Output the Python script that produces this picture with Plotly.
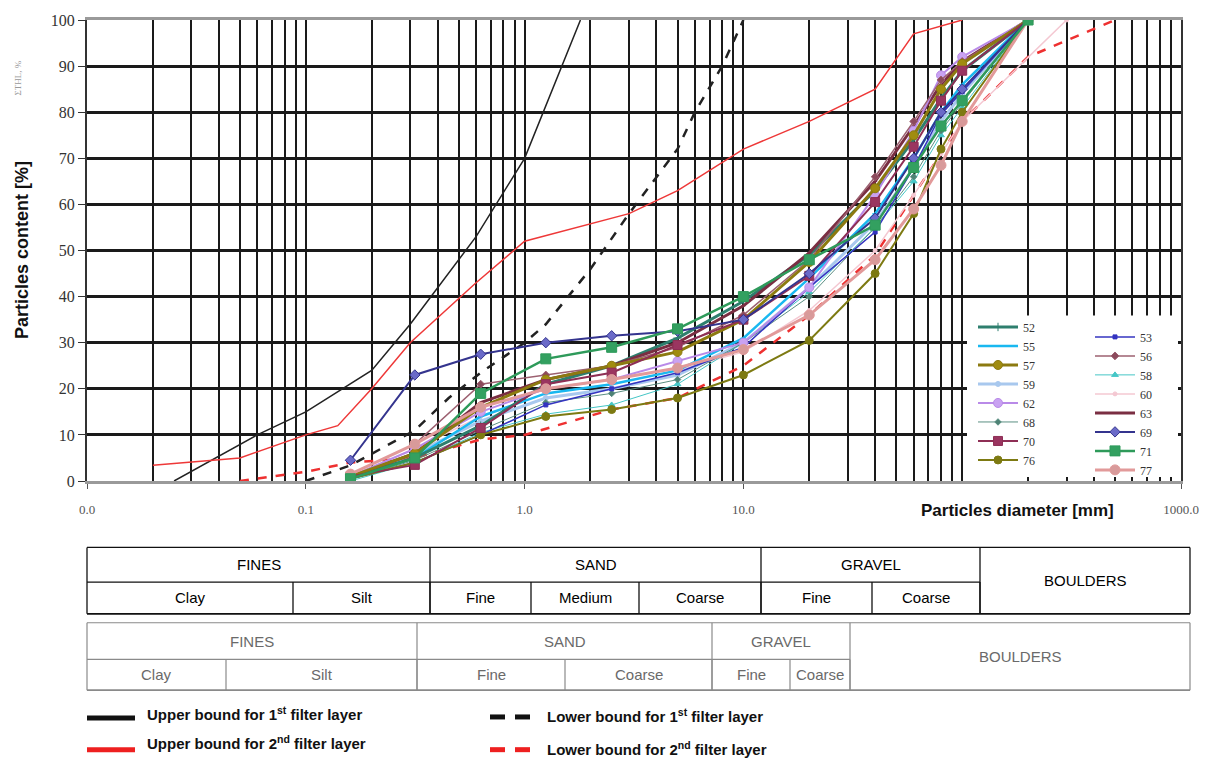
import plotly.graph_objects as go

# ---------------- data ----------------
SIEVES = [0.16, 0.315, 0.63, 1.25, 2.5, 5, 10, 20, 40, 60, 80, 100, 200, 300]

S52 = [1, 5, 12, 21, 25, 31, 39, 49, 63, 74, 83, 89, 100, None]
S53 = [0.5, 4, 10, 16.5, 20, 23.5, 29, 42, 54, 68, 79.5, 84.5, 100, None]
S55 = [0.5, 5, 14, 19, 21, 24, 31, 44, 58, 70, 80, 86, 100, None]
S56 = [1.5, 8, 21, 23, 25, 29, 36, 48, 66, 78, 87, 91, 100, None]
S57 = [1, 6, 16, 22, 25, 28, 35, 47.5, 63.5, 75, 85, 90.5, 100, None]
S58 = [0, 4, 10.5, 14.5, 16.5, 21, 30, 41, 55, 65, 75, 81, 100, None]
S59 = [0.5, 6, 13, 18, 20, 23, 30, 42, 56, 68, 78, 84, 100, None]
S60 = [1, 7, 14, 19, 21, 24, 28, 37, 50, 62, 71, 78, None, 100]
S62 = [1, 7, 15, 20, 22, 26, 30, 42, 62, 76, 88, 92, 100, None]
S63 = [1, 6, 17, 22, 25, 30, 38, 49.5, 65, 77, 86, 91, 100, None]
S68 = [0.5, 4.5, 11, 17, 19, 22, 30, 40, 55, 66, 76, 82, 100, None]
S69 = [4.5, 23, 27.5, 30, 31.5, 32.5, 35, 45, 57, 70, 80, 85, 100, None]
S70 = [1, 3.5, 11.5, 21, 23.5, 29.5, 35, 44.5, 60.5, 72.5, 82.5, 89, 100, None]
S71 = [0.5, 5, 19, 26.5, 29, 33, 40, 48, 55.5, 68, 77, 82.5, 100, None]
S76 = [0.5, 4, 10, 14, 15.5, 18, 23, 30.5, 45, 58, 72, 80, 100, None]
S77 = [1.5, 8, 16, 20, 22, 24.5, 28.5, 36, 48, 59, 68.5, 78, 100, None]

UB1_D = [0.025, 0.06, 0.1, 0.2, 0.3, 0.6, 1.0, 1.8]
UB1_P = [0, 10, 15, 24, 34, 53, 70, 100]
UB2_D = [0.02, 0.05, 0.1, 0.14, 0.2, 0.3, 0.6, 1.0, 3.0, 5.0, 10, 20, 40, 60, 100]
UB2_P = [3.4, 5, 10, 12, 20, 30, 43, 52, 58, 63, 72, 78, 85, 97, 100]
LB1_D = [0.1, 0.16, 0.315, 0.45, 0.63, 1.0, 1.25, 2.0, 3.0, 5.0, 6.0, 8.0, 10]
LB1_P = [0, 3.4, 11, 18, 23.5, 30, 34, 46, 58, 72, 80, 90, 100]
LB2_D = [0.05, 0.1, 0.16, 0.315, 0.63, 1.0, 2.5, 5, 10, 20, 40, 60, 100, 200, 500]
LB2_P = [0, 2, 4, 5, 9, 10, 15.5, 18, 25, 36, 49, 62, 78, 92, 100]

X_TICKS = [0.01, 0.1, 1, 10, 1000]
X_TICKTEXT = ["0.0", "0.1", "1.0", "10.0", "1000.0"]

SERIES = {
    "52": S52, "53": S53, "55": S55, "56": S56, "57": S57, "58": S58,
    "59": S59, "60": S60, "62": S62, "63": S63, "68": S68, "69": S69,
    "70": S70, "71": S71, "76": S76, "77": S77,
}
COL1 = ["52", "55", "57", "59", "62", "68", "70", "76"]
COL2 = ["53", "56", "58", "60", "63", "69", "71", "77"]

STYLE = {
    "52": dict(c="#2E7F6E", w=3, sym="cross-thin-open", s=6, mc="#2E7F6E"),
    "55": dict(c="#19B8F0", w=2.5, sym="line-ew", s=4, mc="#19B8F0"),
    "57": dict(c="#8C7A10", w=3, sym="circle", s=9, mc="#A08C10"),
    "59": dict(c="#A8C8EE", w=3, sym="circle", s=5, mc="#A8C8EE"),
    "62": dict(c="#B98AE8", w=2, sym="circle", s=9, mc="#C9A2F2"),
    "68": dict(c="#5B8F82", w=1, sym="diamond", s=5, mc="#4E8275"),
    "70": dict(c="#8E2F55", w=2, sym="square", s=9, mc="#9A3560"),
    "76": dict(c="#7D7A12", w=2, sym="circle", s=8, mc="#7D7A12"),
    "53": dict(c="#3434C0", w=1.5, sym="square", s=4, mc="#3434C0"),
    "56": dict(c="#9C6070", w=1.5, sym="diamond", s=6, mc="#8C4A5C"),
    "58": dict(c="#45C6C6", w=1, sym="triangle-up", s=6, mc="#45C6C6"),
    "60": dict(c="#F4C8D2", w=1.5, sym="circle", s=4, mc="#F4C8D2"),
    "63": dict(c="#7A2E42", w=3, sym="line-ew", s=3, mc="#7A2E42"),
    "69": dict(c="#34348E", w=2, sym="diamond", s=8, mc="#6A6AC8"),
    "71": dict(c="#2E9A5A", w=2.5, sym="square", s=10, mc="#33A060"),
    "77": dict(c="#E29A9A", w=3, sym="circle", s=10, mc="#D89A9A"),
}

DRAW_ORDER = ["60", "59", "58", "55", "68", "53", "52", "63", "62", "56",
              "76", "57", "70", "69", "77", "71"]

# ---------------- geometry helpers (pixel -> paper) ----------------
PX_L, PX_R, PX_T, PX_B = 87, 1181, 16, 481


def xp(px):
    return (px - PX_L) / (PX_R - PX_L)


def yp(py):
    return (PX_B - py) / (PX_B - PX_T)


fig = go.Figure()

# bounds
fig.add_trace(go.Scatter(x=UB1_D, y=UB1_P, mode="lines", showlegend=False,
                         line=dict(color="#222222", width=1.5)))
fig.add_trace(go.Scatter(x=UB2_D, y=UB2_P, mode="lines", showlegend=False,
                         line=dict(color="#EE3838", width=1.5)))
fig.add_trace(go.Scatter(x=LB1_D, y=LB1_P, mode="lines", showlegend=False,
                         line=dict(color="#222222", width=2.5, dash="dash")))
fig.add_trace(go.Scatter(x=LB2_D, y=LB2_P, mode="lines", showlegend=False,
                         line=dict(color="#EE3030", width=2.5, dash="dash")))

for name in DRAW_ORDER:
    st = STYLE[name]
    fig.add_trace(go.Scatter(
        x=SIEVES, y=SERIES[name], name=name, mode="lines+markers",
        connectgaps=True,
        legend="legend" if name in COL1 else "legend2",
        legendrank=(COL1 + COL2).index(name),
        line=dict(color=st["c"], width=st["w"]),
        marker=dict(symbol=st["sym"], size=st["s"], color=st["mc"],
                    line=dict(color=st["c"], width=1)),
    ))

minor_vals = []
for dec in [0.01, 0.1, 1, 10, 100]:
    for k in range(2, 10):
        minor_vals.append(round(k * dec, 6))
minor_vals.append(100)

shapes = []
annotations = []

# white box behind the in-plot legend
shapes.append(dict(type="rect", xref="paper", yref="paper", layer="above",
                   x0=xp(967), x1=xp(1178), y0=yp(477), y1=yp(314),
                   fillcolor="white", line=dict(width=0)))

# ---------------- classification tables ----------------
def table(top, mid, bot, left, right, top_cells, bot_cells, span_cell,
          lcolor, tcolor, lw):
    out_s, out_a = [], []
    line = dict(color=lcolor, width=lw)
    out_s.append(dict(type="line", xref="paper", yref="paper", x0=xp(left), x1=xp(right),
                      y0=yp(top), y1=yp(top), line=line))
    out_s.append(dict(type="line", xref="paper", yref="paper", x0=xp(left), x1=xp(right),
                      y0=yp(bot), y1=yp(bot), line=dict(color=lcolor, width=lw + 0.5)))
    out_s.append(dict(type="line", xref="paper", yref="paper", x0=xp(left), x1=xp(span_cell[0]),
                      y0=yp(mid), y1=yp(mid), line=line))
    for xv in [left, right]:
        out_s.append(dict(type="line", xref="paper", yref="paper", x0=xp(xv), x1=xp(xv),
                          y0=yp(top), y1=yp(bot), line=line))
    for (a, b, txt) in top_cells:
        out_s.append(dict(type="line", xref="paper", yref="paper", x0=xp(b), x1=xp(b),
                          y0=yp(top), y1=yp(bot), line=line))
        out_a.append(dict(xref="paper", yref="paper", x=xp((a + b) / 2), y=yp((top + mid) / 2),
                          text=txt, showarrow=False, xanchor="center", yanchor="middle",
                          font=dict(family="Liberation Sans, Arial", size=15, color=tcolor)))
    for (a, b, txt) in bot_cells:
        out_s.append(dict(type="line", xref="paper", yref="paper", x0=xp(b), x1=xp(b),
                          y0=yp(mid), y1=yp(bot), line=line))
        out_a.append(dict(xref="paper", yref="paper", x=xp((a + b) / 2), y=yp((mid + bot) / 2),
                          text=txt, showarrow=False, xanchor="center", yanchor="middle",
                          font=dict(family="Liberation Sans, Arial", size=15, color=tcolor)))
    a, b, txt = span_cell
    out_a.append(dict(xref="paper", yref="paper", x=xp((a + b) / 2), y=yp((top + bot) / 2),
                      text=txt, showarrow=False, xanchor="center", yanchor="middle",
                      font=dict(family="Liberation Sans, Arial", size=15, color=tcolor)))
    return out_s, out_a


s1, a1 = table(548, 583, 615, 87, 1190,
               [(87, 430, "FINES"), (430, 761, "SAND"), (761, 980, "GRAVEL")],
               [(87, 293, "Clay"), (293, 430, "Silt"), (430, 531, "Fine"),
                (531, 639, "Medium"), (639, 761, "Coarse"), (761, 872, "Fine"),
                (872, 980, "Coarse")],
               (980, 1190, "BOULDERS"), "#111111", "#000000", 1.3)
s2, a2 = table(624, 661, 692, 87, 1190,
               [(87, 417, "FINES"), (417, 712, "SAND"), (712, 850, "GRAVEL")],
               [(87, 226, "Clay"), (226, 417, "Silt"), (417, 565, "Fine"),
                (565, 712, "Coarse"), (712, 790, "Fine"), (790, 850, "Coarse")],
               (850, 1190, "BOULDERS"), "#8a8a8a", "#6a6a6a", 1.2)
shapes += s1 + s2
annotations += a1 + a2

# ---------------- bottom legend for bounds ----------------
LEG_FONT = dict(family="Liberation Sans, Arial", size=15, color="#111111")
bound_items = [
    (87, 135, 720, "#111111", "solid", 145, 716, "Upper bound for 1<sup>st</sup> filter layer"),
    (87, 135, 752, "#EE2020", "solid", 145, 745, "Upper bound for 2<sup>nd</sup> filter layer"),
    (490, 530, 719, "#111111", "dash", 545, 718, "Lower bound for 1<sup>st</sup> filter layer"),
    (490, 530, 752, "#EE2020", "dash", 545, 751, "Lower bound for 2<sup>nd</sup> filter layer"),
]
for (x0, x1, y0, col, dash, tx, ty, txt) in bound_items:
    if dash == "solid":
        shapes.append(dict(type="line", xref="paper", yref="paper", x0=xp(x0), x1=xp(x1),
                           y0=yp(y0), y1=yp(y0), line=dict(color=col, width=5)))
    else:
        shapes.append(dict(type="line", xref="paper", yref="paper", x0=xp(x0), x1=xp(x0 + 15),
                           y0=yp(y0), y1=yp(y0), line=dict(color=col, width=5)))
        shapes.append(dict(type="line", xref="paper", yref="paper", x0=xp(x1 - 15), x1=xp(x1),
                           y0=yp(y0), y1=yp(y0), line=dict(color=col, width=5)))
    annotations.append(dict(xref="paper", yref="paper", x=xp(tx), y=yp(ty),
                            text="<b>" + txt + "</b>", showarrow=False,
                            xanchor="left", yanchor="middle", font=LEG_FONT))

# axis titles
annotations.append(dict(xref="paper", yref="paper", x=xp(22), y=yp(248),
                        text="<b>Particles content [%]</b>", showarrow=False, textangle=-90,
                        xanchor="center", yanchor="middle",
                        font=dict(family="Liberation Sans, Arial", size=18, color="#111")))
annotations.append(dict(xref="paper", yref="paper", x=xp(1017), y=yp(511),
                        text="<b>Particles diameter [mm]</b>", showarrow=False,
                        xanchor="center", yanchor="middle",
                        font=dict(family="Liberation Sans, Arial", size=17, color="#111")))
annotations.append(dict(xref="paper", yref="paper", x=xp(18), y=yp(75),
                        text="ΣTHL, %", showarrow=False, textangle=-90,
                        xanchor="center", yanchor="middle",
                        font=dict(family="Liberation Serif", size=9, color="#999")))

fig.update_layout(
    width=1217, height=764,
    margin=dict(l=PX_L, r=1217 - PX_R, t=PX_T, b=764 - PX_B),
    paper_bgcolor="white", plot_bgcolor="white",
    shapes=shapes, annotations=annotations,
    legend=dict(x=xp(973), y=yp(311), xanchor="left", yanchor="top",
                bgcolor="rgba(0,0,0,0)", itemwidth=40, tracegroupgap=0,
                font=dict(family="Liberation Serif", size=12, color="#333")),
    legend2=dict(x=xp(1090), y=yp(321), xanchor="left", yanchor="top",
                 bgcolor="rgba(0,0,0,0)", itemwidth=40, tracegroupgap=0,
                 font=dict(family="Liberation Serif", size=12, color="#333")),
    xaxis=dict(type="log", range=[-2, 3], tickmode="array", tickvals=X_TICKS,
               ticktext=X_TICKTEXT, showgrid=True, gridcolor="#1a1a1a", gridwidth=1.5,
               minor=dict(tickmode="array", tickvals=minor_vals, showgrid=True,
                          gridcolor="#1a1a1a", gridwidth=1.5, ticks=""),
               ticks="outside", ticklen=5, tickcolor="#555",
               tickfont=dict(family="Liberation Serif", size=13, color="#555"),
               ticklabelstandoff=9,
               showline=True, linecolor="#9a9a9a", linewidth=3, mirror=True,
               zeroline=False),
    yaxis=dict(range=[0, 100], tickmode="array", tickvals=list(range(0, 101, 10)),
               showgrid=True, gridcolor="#1a1a1a", gridwidth=2.5,
               ticks="outside", ticklen=7, tickcolor="#333",
               tickfont=dict(family="Liberation Serif", size=16, color="#333"),
               showline=True, linecolor="#333", linewidth=2, mirror=True,
               zeroline=False),
)

fig.write_html("out.html")
